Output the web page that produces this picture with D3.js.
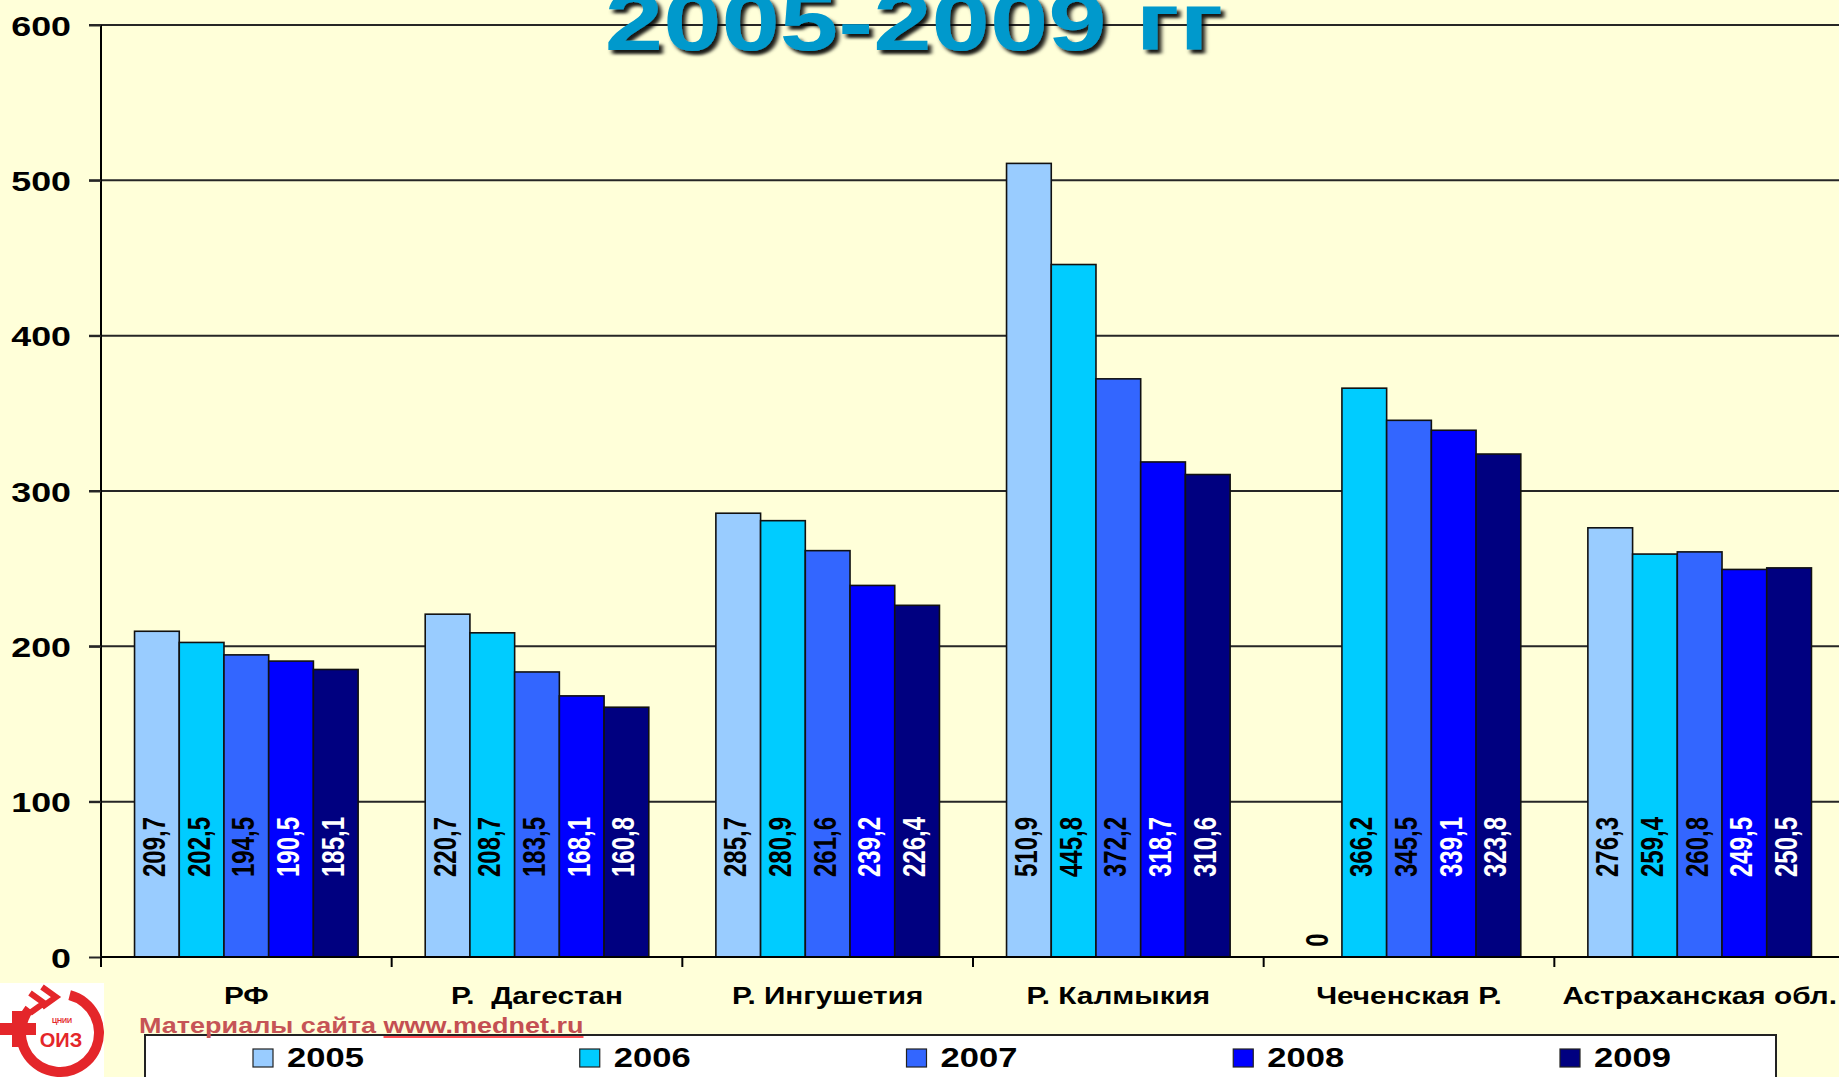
<!DOCTYPE html>
<html>
<head>
<meta charset="utf-8">
<script src="https://cdn.jsdelivr.net/npm/d3@7/dist/d3.min.js"></script>
<style>
	html, body { margin: 0; padding: 0; background: #ffffd9; overflow: hidden; }
	#chart { width: 1839px; height: 1077px; }
	text { font-family: "Liberation Sans", Arial, sans-serif; font-weight: bold; white-space: pre; }
</style>
</head>
<body>
<div id="chart"></div>
<script>
// categories and series
var categories = ['РФ', 'Р.  Дагестан', 'Р. Ингушетия', 'Р. Калмыкия', 'Чеченская Р.', 'Астраханская обл.'];
var years      = ['2005', '2006', '2007', '2008', '2009'];
var values2005 = [209.7, 220.7, 285.7, 510.9, 0,     276.3];
var values2006 = [202.5, 208.7, 280.9, 445.8, 366.2, 259.4];
var values2007 = [194.5, 183.5, 261.6, 372.2, 345.5, 260.8];
var values2008 = [190.5, 168.1, 239.2, 318.7, 339.1, 249.5];
var values2009 = [185.1, 160.8, 226.4, 310.6, 323.8, 250.5];
var yTicks     = [0, 100, 200, 300, 400, 500, 600];
var titleText  = '2005-2009 гг';
var sourceText = 'Материалы сайта ';
var sourceLink = 'www.mednet.ru';

var colors     = ['#99ccff', '#00ccff', '#3366ff', '#0000ff', '#000080'];
var labelFill  = ['#000', '#000', '#000', '#fff', '#fff'];
var SX = 1.28; // the slide is stretched sideways, so is its text

function BarChart(config) {
	var me = this;
	me.width  = config.width;
	me.height = config.height;
	me.plot   = {left: 101, right: 1845, top: 25, bottom: 957};
	me.series = [values2005, values2006, values2007, values2008, values2009];
	me.svg = d3.select('#' + config.parentId).append('svg')
		.attr('width', me.width)
		.attr('height', me.height);
	me.defs();
	me.initScales();
	me.draw();
}

BarChart.prototype.defs = function() {
	var f = this.svg.append('defs').append('filter')
		.attr('id', 'shadow')
		.attr('x', '-10%').attr('y', '-10%')
		.attr('width', '130%').attr('height', '140%');
	f.append('feDropShadow')
		.attr('dx', 3).attr('dy', 4)
		.attr('stdDeviation', 1.6)
		.attr('flood-color', '#000')
		.attr('flood-opacity', 0.9);
}

BarChart.prototype.initScales = function() {
	var me = this;
	me.x0 = d3.scaleBand()
		.domain(categories)
		.range([me.plot.left, me.plot.right])
		.padding(0);
	me.x1 = d3.scaleBand()
		.domain(years)
		.range([0, me.x0.bandwidth()])
		.paddingInner(0)
		.paddingOuter(0.75);
	me.y = d3.scaleLinear()
		.domain([0, 600])
		.range([me.plot.bottom, me.plot.top]);
}

// text is drawn at origin then moved and stretched
function stretch(x, y, rot, sx) {
	return 'translate(' + x + ',' + y + ') scale(' + (sx || SX) + ',1)' + (rot ? ' rotate(' + rot + ')' : '');
}

BarChart.prototype.draw = function() {
	this.drawGrid();
	this.drawBars();
	this.drawAxes();
	this.drawTitle();
	this.drawLegend();
	this.drawFooter();
}

BarChart.prototype.drawGrid = function() {
	var me = this;
	var g = me.svg.append('g').attr('class', 'grid');
	g.selectAll('line')
		.data(yTicks.filter(function(d) { return d > 0; }))
		.enter().append('line')
		.attr('x1', me.plot.left - 12)
		.attr('x2', me.width)
		.attr('y1', function(d) { return me.y(d); })
		.attr('y2', function(d) { return me.y(d); })
		.attr('stroke', '#262626')
		.attr('stroke-width', 2);
}

BarChart.prototype.drawBars = function() {
	var me = this;
	var rows = categories.map(function(c, i) {
		return years.map(function(yr, j) { return {cat: c, year: yr, idx: j, value: me.series[j][i]}; });
	});

	var group = me.svg.append('g').attr('class', 'bars')
		.selectAll('g')
		.data(rows)
		.enter().append('g')
		.attr('transform', function(d, i) { return 'translate(' + me.x0(categories[i]) + ',0)'; });

	group.selectAll('rect')
		.data(function(d) { return d.filter(function(b) { return b.value > 0; }); })
		.enter().append('rect')
		.attr('x', function(d) { return me.x1(d.year); })
		.attr('width', me.x1.bandwidth())
		.attr('y', function(d) { return me.y(d.value); })
		.attr('height', function(d) { return me.y(0) - me.y(d.value); })
		.attr('fill', function(d) { return colors[d.idx]; })
		.attr('stroke', '#111')
		.attr('stroke-width', 1.6);

	group.selectAll('text')
		.data(function(d) { return d; })
		.enter().append('text')
		.attr('transform', function(d) {
			var cx = me.x1(d.year) + me.x1.bandwidth() / 2 + 8;
			var cy = d.value > 0 ? me.plot.bottom - 110 : me.plot.bottom - 17;
			return stretch(cx, cy, -90);
		})
		.attr('text-anchor', 'middle')
		.attr('font-size', 24)
		.attr('fill', function(d) { return labelFill[d.idx]; })
		.text(function(d) { return d.value === 0 ? '0' : d3.format('.1f')(d.value).replace('.', ','); });
}

BarChart.prototype.drawAxes = function() {
	var me = this;

	// value axis
	var yAxis = me.svg.append('g')
		.attr('transform', 'translate(' + me.plot.left + ',0)')
		.call(d3.axisLeft(me.y).tickValues(yTicks).tickSize(12).tickFormat(d3.format('d')));
	yAxis.select('.domain').attr('stroke', '#000').attr('stroke-width', 2).attr('d', 'M0,' + me.plot.top + 'V' + me.plot.bottom);
	yAxis.selectAll('.tick line').attr('stroke', '#262626').attr('stroke-width', 2);
	yAxis.selectAll('.tick text').remove();
	yAxis.selectAll('.tick').append('text')
		.attr('transform', stretch(-30, 10))
		.attr('text-anchor', 'end')
		.attr('font-size', 28)
		.attr('fill', '#000')
		.text(function(d) { return d; });

	// category axis
	var xAxis = me.svg.append('g')
		.attr('transform', 'translate(0,' + me.plot.bottom + ')');
	xAxis.append('line')
		.attr('x1', me.plot.left).attr('x2', me.width)
		.attr('stroke', '#000').attr('stroke-width', 2);
	var bounds = categories.map(function(c) { return me.x0(c); });
	xAxis.selectAll('line.tick')
		.data(bounds)
		.enter().append('line')
		.attr('class', 'tick')
		.attr('x1', function(d) { return d; }).attr('x2', function(d) { return d; })
		.attr('y1', 0).attr('y2', 10)
		.attr('stroke', '#000').attr('stroke-width', 2);
	xAxis.selectAll('text')
		.data(categories)
		.enter().append('text')
		.attr('transform', function(d) { return stretch(me.x0(d) + me.x0.bandwidth() / 2, 47, 0, 1.24); })
		.attr('text-anchor', 'middle')
		.attr('font-size', 24)
		.attr('fill', '#000')
		.text(function(d) { return d; });
}

BarChart.prototype.drawTitle = function() {
	var me = this;
	me.svg.append('text')
		.attr('transform', stretch(914, 50))
		.attr('text-anchor', 'middle')
		.attr('font-size', 82)
		.attr('fill', '#0099cc')
		.attr('filter', 'url(#shadow)')
		.text(titleText);
}

BarChart.prototype.drawLegend = function() {
	var me = this;
	var lx = d3.scalePoint().domain(years).range([253, 1560]);
	var g = me.svg.append('g').attr('class', 'legend');
	g.append('rect')
		.attr('x', 145).attr('y', 1035)
		.attr('width', 1631).attr('height', 80)
		.attr('fill', '#fff')
		.attr('stroke', '#222').attr('stroke-width', 2);
	var item = g.selectAll('g')
		.data(years)
		.enter().append('g')
		.attr('transform', function(d) { return 'translate(' + lx(d) + ',1049)'; });
	item.append('rect')
		.attr('width', 20).attr('height', 18)
		.attr('fill', function(d, i) { return colors[i]; })
		.attr('stroke', '#222').attr('stroke-width', 1.2);
	item.append('text')
		.attr('transform', stretch(34, 18))
		.attr('font-size', 27)
		.attr('fill', '#000')
		.text(function(d) { return d; });
}

BarChart.prototype.drawFooter = function() {
	var me = this;
	var fsx = 1.2;
	var t = me.svg.append('text')
		.attr('transform', stretch(139, 1033, 0, fsx))
		.attr('font-size', 22.5)
		.attr('fill', '#c65456');
	t.append('tspan').text(sourceText);
	t.append('tspan').attr('fill', '#c44f52').text(sourceLink);
	// underline of the link, lighter red
	var tsp = t.selectAll('tspan').nodes()[1];
	var start = tsp.getStartPositionOfChar(0).x, len = tsp.getComputedTextLength();
	me.svg.append('line')
		.attr('transform', stretch(139, 1033, 0, fsx))
		.attr('x1', start).attr('x2', start + len)
		.attr('y1', 4).attr('y2', 4)
		.attr('stroke', '#ff4f55').attr('stroke-width', 2.2);

	// logo, rough
	var logo = me.svg.append('g').attr('transform', 'translate(0,983)');
	logo.append('rect').attr('width', 104).attr('height', 94).attr('fill', '#fff');
	logo.append('path')
		.attr('d', d3.arc()({innerRadius: 34, outerRadius: 44, startAngle: 0.25, endAngle: 2 * Math.PI - 0.9}))
		.attr('transform', 'translate(60,50)')
		.attr('fill', '#e4262a');
	logo.append('path')
		.attr('d', 'M0,40h12v-12h12v12h12v12h-12v12h-12v-12h-12z')
		.attr('fill', '#e4262a');
	logo.append('path')
		.attr('d', 'M30,10l14,10l-14,10M42,4l14,10l-14,10')
		.attr('fill', 'none').attr('stroke', '#e4262a').attr('stroke-width', 6);
	logo.append('text')
		.attr('transform', 'translate(62,40)')
		.attr('text-anchor', 'middle')
		.attr('font-size', 7)
		.attr('fill', '#e4262a')
		.text('ЦНИИ');
	logo.append('text')
		.attr('transform', 'translate(61,64)')
		.attr('text-anchor', 'middle')
		.attr('font-size', 20)
		.attr('fill', '#e4262a')
		.text('ОИЗ');
}

new BarChart({parentId: 'chart', width: 1839, height: 1077});
</script>
</body>
</html>
